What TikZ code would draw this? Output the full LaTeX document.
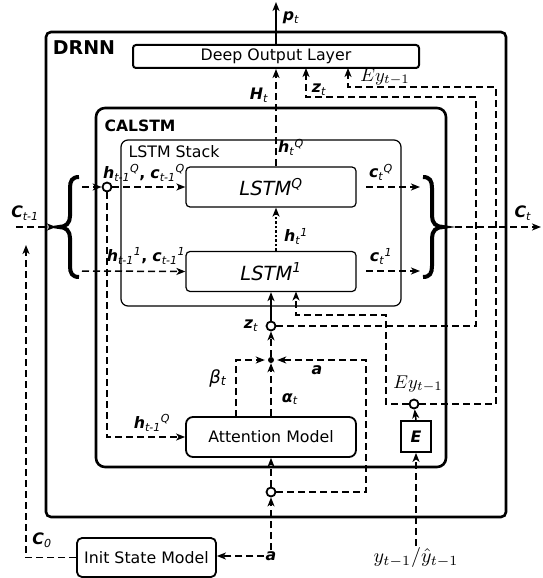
\documentclass[tikz,border=0pt]{standalone}
\usepackage{amsmath}
\usepackage{graphicx}
\usepackage{fontspec}
\setmainfont{DejaVu Sans}
\usetikzlibrary{arrows.meta,calc}
\newcommand{\bv}[1]{\textbf{\textit{#1}}}
\newcommand{\sbt}[1]{\textsubscript{\textit{#1}}}
\newcommand{\spt}[1]{\textsuperscript{\textit{#1}}}
\newcommand{\mlab}[2]{\scalebox{#1}{\fontsize{10}{12}\selectfont$#2$}}
\begin{document}
\begin{tikzpicture}[x=1pt,y=-1pt,
  font=\fontsize{15.8}{19}\selectfont,
  conn/.style={line width=1.5pt, dash pattern=on 7pt off 4pt},
  tip/.style={-{Stealth[length=9pt,width=7pt,inset=2.5pt]}},
  arr/.style={conn, tip},
  sarr/.style={line width=1.5pt, tip},
  darr/.style={line width=1.5pt, dash pattern=on 2.5pt off 2pt, tip},
  bigbox/.style={draw, line width=2.6pt, inner sep=0pt},
  box/.style={draw, line width=1.8pt, inner sep=0pt, rounded corners=7pt},
  thinbox/.style={draw, line width=1.2pt, inner sep=0pt, rounded corners=4pt},
  hub/.style={circle, draw, fill=white, line width=1.8pt, minimum size=9pt, inner sep=0pt},
  brace/.style={line width=4pt},
  lbl/.style={inner sep=1pt}
]
\useasboundingbox (0,0) rectangle (542,578);

% containers
\node[bigbox, rounded corners=5pt, minimum width=460pt, minimum height=485pt] (drnn) at (276,274.5) {};
\node[lbl, font=\fontsize{19}{22}\selectfont\bfseries] (drnnl) at (84,48) {DRNN};
\node[draw, line width=2pt, rounded corners=3pt, minimum width=286pt, minimum height=23pt, inner sep=0pt] (dol) at (276,56.5) {Deep Output Layer};
\node[bigbox, rounded corners=9pt, minimum width=350pt, minimum height=359pt] (calstm) at (271,287.5) {};
\node[lbl, font=\fontsize{15.6}{19}\selectfont\bfseries] (calstml) at (140,126) {CALSTM};
\node[thinbox, rounded corners=7pt, minimum width=280pt, minimum height=166pt] (stack) at (261,223) {};
\node[lbl] (stackl) at (174,152) {LSTM Stack};

% modules
\node[thinbox, minimum width=170pt, minimum height=40pt, font=\fontsize{19.5}{23}\selectfont\itshape] (lstmq) at (271,187) {LSTM\textsuperscript{Q}};
\node[thinbox, minimum width=170pt, minimum height=40pt, font=\fontsize{19.5}{23}\selectfont\itshape] (lstm1) at (271,271.5) {LSTM\textsuperscript{1}};
\node[box, minimum width=170pt, minimum height=40pt] (att) at (271,437) {Attention Model};
\node[box, rounded corners=5pt, minimum width=139pt, minimum height=39pt] (init) at (146.5,557.5) {Init State Model};
\node[draw, line width=1.8pt, minimum width=30pt, minimum height=31pt, inner sep=0pt] (E) at (416,436.5) {\bv{E}};

% hubs
\node[hub] (c1) at (107,187) {};
\node[hub] (cz) at (271,326) {};
\node[hub] (cE) at (414,404) {};
\node[hub] (cb) at (271,492) {};
\node[circle, fill=black, minimum size=6pt, inner sep=0pt] (dot) at (271,360) {};

% braces
\draw[brace] (79,177) .. controls (72,177) and (70,181) .. (70,188) -- (70,216)
  .. controls (70,223) and (66,227) .. (59,227) .. controls (66,227) and (70,231) .. (70,238)
  -- (70,266) .. controls (70,273) and (72,277) .. (79,277);
\draw[brace] (423,177) .. controls (430,177) and (432,181) .. (432,188) -- (432,216)
  .. controls (432,223) and (436,227) .. (443,227) .. controls (436,227) and (432,231) .. (432,238)
  -- (432,266) .. controls (432,273) and (430,277) .. (423,277);

% named free ends
\coordinate (ptop) at (276,2);
\coordinate (zA) at (476,97);
\coordinate (zin) at (306,68);
\coordinate (eA) at (496,87);
\coordinate (ein) at (348,68);
\coordinate (eB) at (386,315);
\coordinate (l1in) at (296,291.5);
\coordinate (aTop) at (366,360);
\coordinate (c0top) at (26,245);
\coordinate (cin) at (16,227);
\coordinate (bl) at (56,227);
\coordinate (blt) at (82,187);
\coordinate (blb) at (82,271);
\coordinate (rqs) at (366,187);
\coordinate (rqe) at (420,187);
\coordinate (r1s) at (366,271);
\coordinate (r1e) at (420,271);
\coordinate (cts) at (455,227);
\coordinate (cte) at (541,227);
\coordinate (bsrc) at (236,417);

% labels at ends
\node[lbl] (alab) at (271,556) {\bv{a}};
\node[lbl] (ylab) at (416,557) {\mlab{2.0}{y_{t-1}/\hat{y}_{t-1}}};

% connectors
\draw[sarr] (dol.north) -- (ptop);
\draw[arr] ($(lstmq.north)+(5,0)$) -- (dol.south);
\draw[arr] (cz) -| (zA) -| (zin);
\draw[arr] (cE) -| (eA) -| (ein);
\draw[arr] (cE) -| (eB) -| (l1in);
\draw[sarr] (cz) -- (lstm1.south);
\draw[darr] ($(lstm1.north)+(5,0)$) -- ($(lstmq.south)+(5,0)$);
\draw[arr] (dot) -- (cz);
\draw[arr] (att.north) -- (dot);
\draw[arr, shorten >=3pt] (bsrc) |- (dot);
\draw[arr, shorten >=3pt] (cb) -| (aTop) -- (dot);
\draw[arr] (cb) -- (att.south);
\draw[arr] (alab) -- (cb);
\draw[arr] (alab.west) -- (alab.west -| init.east);
\draw[arr] (init.west) -| (c0top);
\draw[arr] (cin) -- (bl);
\draw[arr] (blt) -- (c1);
\draw[arr] (c1) -- (lstmq.west);
\draw[arr] (blb) -- (lstm1.west);
\draw[arr] (c1) |- (att.west);
\draw[arr] (rqs) -- (rqe);
\draw[arr] (r1s) -- (r1e);
\draw[arr] (cts) -- (cte);
\draw[arr] (ylab) -- (E.south);
\draw[sarr] (E.north) -- (cE);

% text labels
\node[lbl] (pl) at (291,18) {\bv{p}\sbt{t}};
\node[lbl] (Hl) at (259,95) {\bv{H}\sbt{t}};
\node[lbl] (zl) at (319,90) {\bv{z}\sbt{t}};
\node[lbl] (eyl) at (385,77) {\mlab{1.85}{Ey_{t-1}}};
\node[lbl] (htq) at (291,147) {\bv{h}\sbt{t}\spt{Q}};
\node[lbl] (ht1) at (296,236) {\bv{h}\sbt{t}\spt{1}};
\node[lbl] (hq) at (144,173) {\bv{h}\sbt{t-1}\spt{Q}\textbf{,} \bv{c}\sbt{t-1}\spt{Q}};
\node[lbl] (h1) at (146,256) {\bv{h}\sbt{t-1}\spt{1}\textbf{,} \bv{c}\sbt{t-1}\spt{1}};
\node[lbl] (ctq) at (381,172) {\bv{c}\sbt{t}\spt{Q}};
\node[lbl] (ct1) at (381,256) {\bv{c}\sbt{t}\spt{1}};
\node[lbl] (Ctl) at (523,213) {\bv{C}\sbt{t}};
\node[lbl] (Cpl) at (25,213) {\bv{C}\sbt{t-1}};
\node[lbl] (C0l) at (42,540) {\bv{C}\sbt{0}};
\node[lbl] (zl2) at (251,326) {\bv{z}\sbt{t}};
\node[lbl] (al) at (290,399) {\bv{α}\sbt{t}};
\node[lbl, font=\fontsize{18}{21}\selectfont] (bl2) at (218,378) {\textit{β}\sbt{t}};
\node[lbl] (al2) at (317,370) {\bv{a}};
\node[lbl] (hq2) at (152,423) {\bv{h}\sbt{t-1}\spt{Q}};
\node[lbl] (eyl2) at (418,384) {\mlab{1.85}{Ey_{t-1}}};
\end{tikzpicture}
\end{document}
